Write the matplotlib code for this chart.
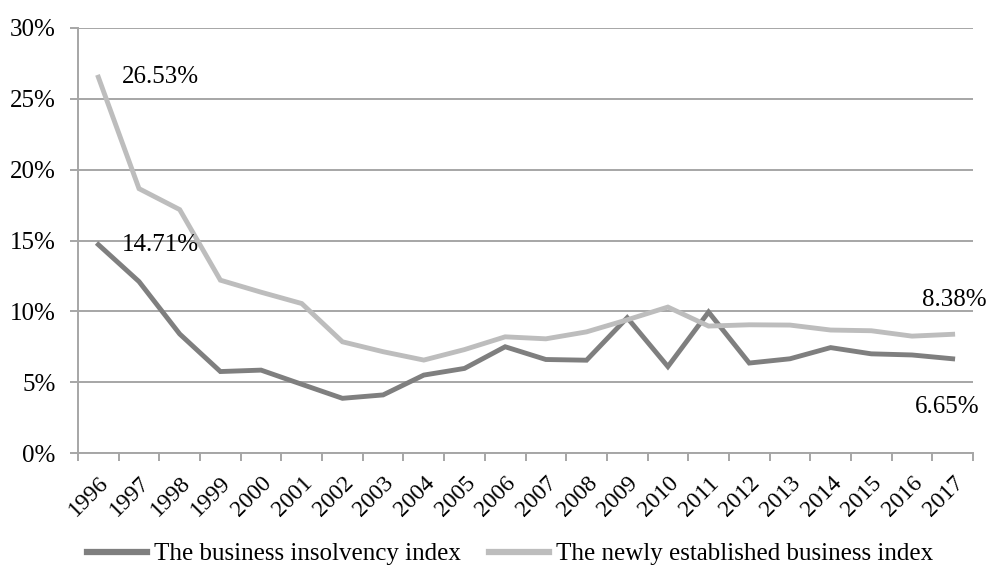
import matplotlib
matplotlib.use("Agg")
import matplotlib.pyplot as plt
import numpy as np

years = [str(y) for y in range(1996, 2018)]
insolvency = [14.71, 12.1, 8.4, 5.75, 5.85, 4.85, 3.86, 4.1, 5.5, 5.97, 7.5, 6.6,
              6.55, 9.55, 6.1, 9.95, 6.35, 6.65, 7.44, 7.0, 6.92, 6.65]
newly = [26.53, 18.66, 17.18, 12.2, 11.35, 10.55, 7.85, 7.15, 6.56, 7.3, 8.2, 8.06,
         8.55, 9.4, 10.3, 8.96, 9.05, 9.03, 8.68, 8.63, 8.25, 8.38]
series_names = ["The business insolvency index", "The newly established business index"]
yticks = [0, 5, 10, 15, 20, 25, 30]

plt.rcParams['font.family'] = ['Liberation Serif', 'DejaVu Serif']

fig = plt.figure(figsize=(9.89, 5.72), dpi=100)
ax = fig.add_axes([78/989, 1-453/572, 895/989, 425/572])

x = np.arange(len(years))
dark = '#7f7f7f'
light = '#bdbdbd'
ax.plot(x, insolvency, color=dark, lw=3.5, solid_joinstyle='miter', label=series_names[0], zorder=3)
ax.plot(x, newly, color=light, lw=3.5, solid_joinstyle='miter', label=series_names[1], zorder=3)

ax.set_xlim(-0.5, len(years) - 0.5)
ax.set_ylim(0, 30)
ax.set_yticks(yticks)
ax.set_yticklabels([f"{v}%" for v in yticks], fontsize=18)
ax.yaxis.grid(True, color='#a6a6a6', lw=1.4)
ax.set_axisbelow(True)

ax.set_xticks(x)
ax.set_xticklabels(years, rotation=45, ha='right', rotation_mode='anchor', fontsize=17)
ax.tick_params(axis='x', which='major', length=0, pad=14)
ax.set_xticks(np.arange(-0.5, len(years), 1.0), minor=True)
ax.tick_params(axis='x', which='minor', length=6, color='#a6a6a6', width=1.4, direction='out')
ax.tick_params(axis='y', length=6, color='#a6a6a6', width=1.4, pad=10)

for s in ['top', 'right']:
    ax.spines[s].set_visible(False)
for s in ['left', 'bottom']:
    ax.spines[s].set_color('#a6a6a6')
    ax.spines[s].set_linewidth(1.4)

ax.annotate(f"{newly[0]:.2f}%", (x[0], newly[0]), xytext=(17, 0), textcoords='offset points',
            fontsize=18, ha='left', va='center')
ax.annotate(f"{insolvency[0]:.2f}%", (x[0], insolvency[0]), xytext=(17, 0), textcoords='offset points',
            fontsize=18, ha='left', va='center')
ax.annotate(f"{newly[-1]:.2f}%", (x[-1], newly[-1]), xytext=(24.5, 25), textcoords='offset points',
            fontsize=18, ha='right', va='center')
ax.annotate(f"{insolvency[-1]:.2f}%", (x[-1], insolvency[-1]), xytext=(19.5, -35), textcoords='offset points',
            fontsize=18, ha='right', va='center')

leg = fig.legend(loc='center', bbox_to_anchor=(510/989, 1-554/572), ncol=2, frameon=False,
                 fontsize=18, handlelength=2.4, columnspacing=1.1, handletextpad=0.3)
for h in leg.get_lines():
    h.set_linewidth(4.5)

fig.savefig('out.png', dpi=100)
